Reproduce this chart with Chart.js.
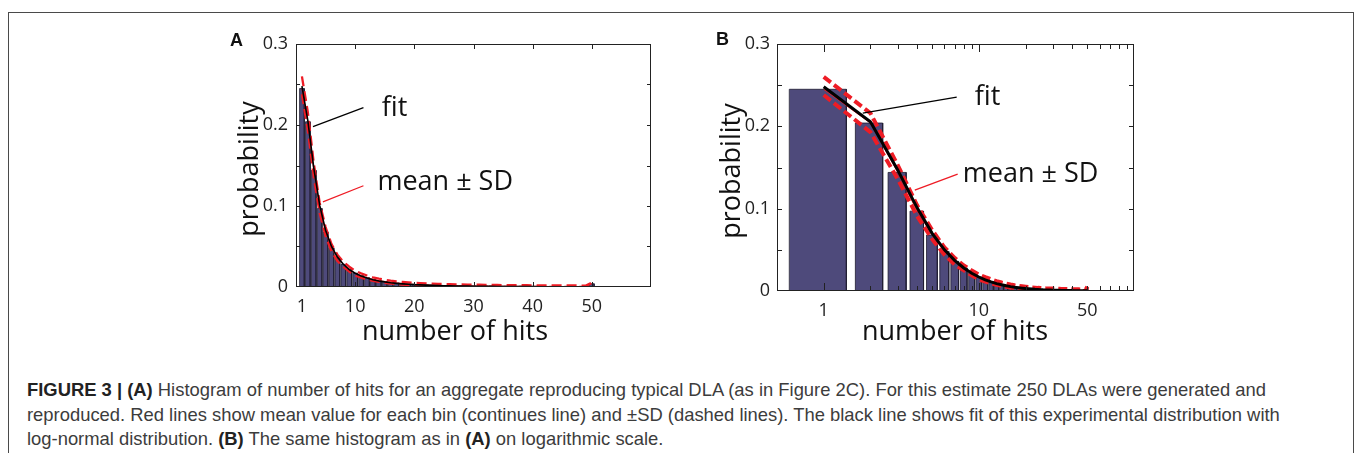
<!DOCTYPE html>
<html>
<head>
<meta charset="utf-8">
<script src="https://cdn.jsdelivr.net/npm/chart.js@4.4.1/dist/chart.umd.min.js"></script>
<style>
  html, body { margin: 0; padding: 0; background: #fff; }
  body { width: 1356px; height: 453px; position: relative; overflow: hidden; }
  #frame { position: absolute; left: 8px; top: 12px; width: 1344px; height: 480px;
           border: 1.5px solid #4a4a4a; border-bottom: none; }
  .panel { position: absolute; }
  #caption { position: absolute; left: 27px; top: 378px; font-family: "Liberation Sans", Arial, sans-serif;
             font-size: 18.4px; line-height: 24.5px; color: #3c3c3c; white-space: nowrap; }
  #caption b { color: #222; }
</style>
</head>
<body>
<div id="frame"></div>
<div class="panel" style="left:220px; top:25px; width:440px; height:330px;"><canvas id="histLin"></canvas></div>
<div class="panel" style="left:700px; top:25px; width:450px; height:330px;"><canvas id="histLog"></canvas></div>
<div id="caption"><b>FIGURE 3 | (A)</b> Histogram of number of hits for an aggregate reproducing typical DLA (as in Figure 2C). For this estimate 250 DLAs were generated and<br>reproduced. Red lines show mean value for each bin (continues line) and ±SD (dashed lines). The black line shows fit of this experimental distribution with<br>log-normal distribution. <b>(B)</b> The same histogram as in <b>(A)</b> on logarithmic scale.</div>

<script>
// number of hits (bins)
const bins = [1,2,3,4,5,6,7,8,9,10,11,12,13,14,15,16,17,18,19,20,
              21,22,23,24,25,26,27,28,29,30,31,32,33,34,35,36,37,38,39,40,
              41,42,43,44,45,46,47,48,49,50];

// mean probability per bin (bar heights, also the thin red line)
const meanProb = [0.245,0.204,0.144,0.097,0.068,0.048,0.036,0.028,0.022,0.017,
                  0.014,0.0115,0.0095,0.008,0.0068,0.0058,0.005,0.0043,0.0037,0.0032,
                  0.0028,0.0025,0.0022,0.002,0.0018,0.0016,0.0015,0.0014,0.0013,0.0012,
                  0.0011,0.0011,0.001,0.001,0.0009,0.0009,0.0008,0.0008,0.0008,0.0007,
                  0.0007,0.0007,0.0006,0.0006,0.0006,0.0006,0.0005,0.0005,0.0005,0.004];

// mean + SD
const upperProb = [0.260,0.216,0.153,0.104,0.074,0.053,0.040,0.031,0.025,0.020,
                   0.0168,0.0142,0.012,0.0103,0.009,0.0079,0.007,0.0063,0.0057,0.0052,
                   0.0048,0.0044,0.0041,0.0038,0.0036,0.0034,0.0032,0.0031,0.003,0.0029,
                   0.0028,0.0027,0.0026,0.0025,0.0024,0.0023,0.0023,0.0022,0.0022,0.0021,
                   0.0021,0.002,0.002,0.002,0.0019,0.0019,0.0019,0.0018,0.0018,0.0055];

// mean - SD
const lowerProb = [0.238,0.193,0.136,0.091,0.063,0.044,0.032,0.025,0.019,0.014,
                   0.0115,0.0093,0.0076,0.0063,0.0052,0.0043,0.0036,0.0029,0.0023,0.0018,
                   0.0014,0.0011,0.0008,0.0006,0.0004,0.0002,0.0001,0,0,0,
                   0,0,0,0,0,0,0,0,0,0,
                   0,0,0,0,0,0,0,0,0,0.0025];

// log-normal fit
const fitProb = [0.248,0.2055,0.147,0.101,0.070,0.050,0.037,0.028,0.0215,0.017,
                 0.0136,0.011,0.009,0.0075,0.0063,0.0053,0.0045,0.0039,0.0034,0.0029,
                 0.0026,0.0023,0.002,0.0018,0.0016,0.0014,0.0013,0.0012,0.0011,0.001,
                 0.0009,0.0008,0.0008,0.0007,0.0007,0.0006,0.0006,0.0005,0.0005,0.0005,
                 0.0004,0.0004,0.0004,0.0004,0.0003,0.0003,0.0003,0.0003,0.0003,0.0003];

// tick labels / tick marks
const yLabels = [0, 0.1, 0.2, 0.3];
const yMarks = [0.05, 0.1, 0.15, 0.2, 0.25];
const xLabelsLin = [1, 10, 20, 30, 40, 50];
const xLabelsLog = [1, 10, 50];
const xMajorLog = [1, 10];
const xMinorLog = [2,3,4,5,6,7,8,9,20,30,40,50,60,70,80,90];

const RED = '#ee1c25';
const BAR = '#4e4a7b';
const FONT = '"Open Sans", "Noto Sans", sans-serif';

// outline of 0.8-wide bars, drawn as one filled line
function barOutline(xs, vals) {
  const pts = [];
  xs.forEach((b, i) => {
    pts.push({x: b - 0.4, y: 0}, {x: b - 0.4, y: vals[i]}, {x: b + 0.4, y: vals[i]}, {x: b + 0.4, y: 0});
  });
  return pts;
}
function series(xs, vals) {
  return xs.map((b, i) => ({x: b, y: vals[i]}));
}

// matlab-ish box, inward ticks, titles and the two notes
const matlabBox = {
  id: 'matlabBox',
  afterDraw(chart, args, o) {
    const {ctx, chartArea: a, scales: {x, y}} = chart;
    const seg = (x1, y1, x2, y2) => { ctx.beginPath(); ctx.moveTo(x1, y1); ctx.lineTo(x2, y2); ctx.stroke(); };
    ctx.save();
    ctx.strokeStyle = '#222';
    ctx.lineWidth = 1;
    ctx.strokeRect(Math.round(a.left) + 0.5, Math.round(a.top) + 0.5, Math.round(a.width) - 1, Math.round(a.height) - 1);
    yMarks.forEach(v => {
      const py = Math.round(y.getPixelForValue(v)) + 0.5;
      seg(a.left, py, a.left + o.tick, py);
      seg(a.right, py, a.right - o.tick, py);
    });
    o.xMajor.forEach(v => {
      const px = Math.round(x.getPixelForValue(v)) + 0.5;
      seg(px, a.top, px, a.top + o.major);
      seg(px, a.bottom, px, a.bottom - o.major);
    });
    (o.xMinor || []).forEach(v => {
      const px = Math.round(x.getPixelForValue(v)) + 0.5;
      seg(px, a.top, px, a.top + o.tick);
      seg(px, a.bottom, px, a.bottom - o.tick);
    });

    // leader lines + note text
    o.notes.forEach(n => {
      ctx.strokeStyle = n.color;
      ctx.lineWidth = n.width;
      seg(x.getPixelForValue(n.from[0]), y.getPixelForValue(n.from[1]),
          x.getPixelForValue(n.to[0]), y.getPixelForValue(n.to[1]));
      ctx.fillStyle = '#111';
      ctx.font = '27px ' + FONT;
      ctx.textAlign = 'left';
      ctx.textBaseline = 'alphabetic';
      ctx.fillText(n.text, x.getPixelForValue(n.at[0]), y.getPixelForValue(n.at[1]));
    });

    // axis titles and panel letter
    ctx.fillStyle = '#111';
    ctx.font = '27px ' + FONT;
    ctx.textAlign = 'center';
    ctx.textBaseline = 'alphabetic';
    ctx.fillText('number of hits', o.xTitle[0], o.xTitle[1]);
    ctx.save();
    ctx.translate(o.yTitle[0], o.yTitle[1]);
    ctx.rotate(-Math.PI / 2);
    ctx.textBaseline = 'middle';
    ctx.fillText('probability', 0, 0);
    ctx.restore();
    ctx.font = 'bold 18px "Liberation Sans", Arial, sans-serif';
    ctx.textAlign = 'left';
    ctx.fillText(o.letter, o.letterAt[0], o.letterAt[1]);
    ctx.restore();
  }
};

function makeChart(id, xScale, style, box, yPad) {
  return new Chart(document.getElementById(id), {
    type: 'line',
    data: {
      datasets: [
        {data: series(bins, fitProb), borderColor: '#000', borderWidth: style.fit},
        {data: series(bins, upperProb), borderColor: RED, borderWidth: style.dash, borderDash: style.dashPattern},
        {data: series(bins, lowerProb), borderColor: RED, borderWidth: style.dash, borderDash: style.dashPattern},
        {data: series(bins, meanProb), borderColor: RED, borderWidth: 1},
        {data: barOutline(bins, meanProb), borderColor: '#1e1c30', borderWidth: 0.8,
         backgroundColor: BAR, fill: 'origin'}
      ]
    },
    options: {
      responsive: true,
      maintainAspectRatio: false,
      animation: false,
      events: [],
      layout: {padding: {top: 19, right: style.rightPad, left: 0, bottom: 0}},
      elements: {point: {radius: 0}, line: {tension: 0}},
      scales: {
        x: Object.assign({
          grid: {display: false, drawTicks: false},
          border: {display: false},
          ticks: {font: {family: FONT, size: 18}, color: '#222', padding: 9, maxRotation: 0,
                  callback: v => String(v)},
          afterFit: s => { s.height = style.xAxisH; }
        }, xScale),
        y: {
          min: 0, max: 0.3,
          grid: {display: false, drawTicks: false},
          border: {display: false},
          ticks: {font: {family: FONT, size: 18}, color: '#222', padding: yPad,
                  callback: v => String(v)},
          afterBuildTicks: s => { s.ticks = yLabels.map(v => ({value: v})); },
          afterFit: s => { s.width = style.yAxisW; }
        }
      },
      plugins: {legend: {display: false}, tooltip: {enabled: false}, matlabBox: box}
    },
    plugins: [matlabBox]
  });
}

makeChart('histLin',
  {type: 'linear', min: 0, max: 60,
   afterBuildTicks: s => { s.ticks = xLabelsLin.map(v => ({value: v})); }},
  {fit: 1.6, dash: 2.3, dashPattern: [10, 5], rightPad: 9, xAxisH: 68, yAxisW: 76},
  {tick: 4, major: 5, xMajor: xLabelsLin.slice(1), letter: 'A', letterAt: [10, 21],
   xTitle: [235, 315], yTitle: [30, 144],
   notes: [
     {text: 'fit', at: [14.5, 0.2106], from: [11.4, 0.2214], to: [2.87, 0.198], color: '#000', width: 1.3},
     {text: 'mean ± SD', at: [13.76, 0.1201], from: [11.4, 0.125], to: [4.55, 0.105], color: RED, width: 1.3}
   ]},
  8);

makeChart('histLog',
  {type: 'logarithmic', min: 0.5, max: 100,
   afterBuildTicks: s => { s.ticks = xLabelsLog.map(v => ({value: v})); }},
  {fit: 3, dash: 4, dashPattern: [9, 4], rightPad: 16, xAxisH: 64, yAxisW: 77},
  {tick: 5, major: 8, xMajor: xMajorLog, xMinor: xMinorLog, letter: 'B', letterAt: [16, 20],
   xTitle: [255, 315], yTitle: [32, 146],
   notes: [
     {text: 'fit', at: [9.42, 0.2258], from: [7.2, 0.2356], to: [1.785, 0.2161], color: '#000', width: 1.3},
     {text: 'mean ± SD', at: [7.88, 0.1326], from: [7.3, 0.1419], to: [3.865, 0.1225], color: RED, width: 1.3}
   ]},
  7);
</script>
</body>
</html>
